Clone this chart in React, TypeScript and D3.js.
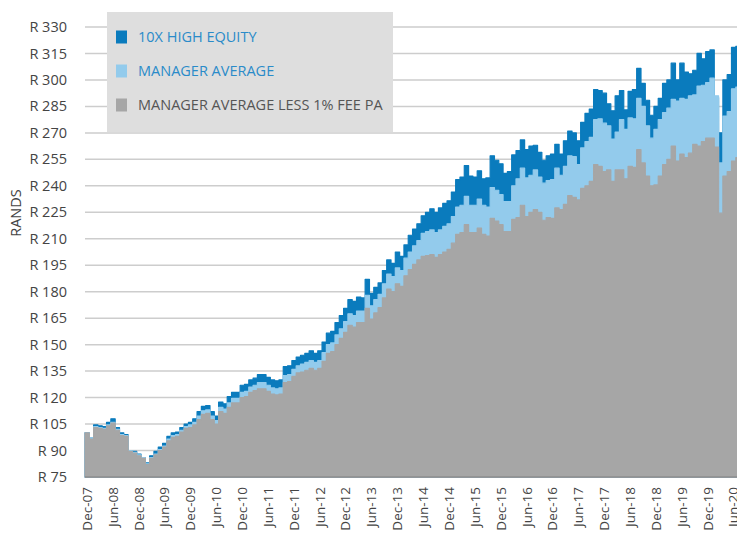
import * as d3 from "d3";

// monthly index values, Dec-07 .. Jul-20 (R100 invested)
const highEquity = [
  100, 97, 104.5, 104, 103.5, 106, 108, 103, 100, 99, 90, 89.5,
  88, 86, 83, 87, 89.5, 92, 94, 98, 100, 100.5, 103, 105,
  106, 108, 112, 115, 115.5, 112, 109.5, 117.5, 116.5, 120.5, 123, 123,
  127, 127.5, 130, 131, 133, 133, 131.5, 130, 129.5, 130, 137.5, 138,
  141, 143, 144, 145, 146.5, 145, 146.5, 151.5, 156.5, 157.5, 162.5, 166.5,
  170.5, 175.5, 174.5, 177, 176.5, 187, 179, 182.5, 185, 192, 198, 196,
  202.5, 200, 206.5, 212, 215.5, 218.5, 223, 225, 227, 225, 227.5, 230,
  231.5, 236.5, 243.5, 245, 251.5, 245.5, 245, 248.5, 244, 244.5, 257, 254.5,
  252.5, 247, 248, 257.5, 260, 266, 260.5, 262.5, 263, 259, 254.5, 257,
  258, 263.5, 258, 265.5, 271, 270, 265.5, 276, 281, 283.5, 294.5, 294,
  292.5, 286.5, 282.5, 291, 294, 283, 293.5, 294.5, 306.5, 298, 288.5, 280,
  285, 289.5, 298, 300, 309.5, 300, 309.5, 304.5, 303.5, 305.5, 315, 312,
  316, 317, 290, 270, 300, 303, 318.5, 319,
];

const managerAverage = [
  100, 97, 103.5, 103, 102.5, 104.5, 106, 102, 99, 98.5, 90, 89,
  87.5, 86, 82.5, 86, 88, 90.5, 92.5, 96.5, 98.5, 99, 101.5, 103.5,
  104.5, 106, 109.5, 112.5, 113, 109.5, 107, 114.5, 113.5, 117, 119.5, 119.5,
  123, 123.5, 126, 127, 128.5, 128.5, 127, 125.5, 125, 125.5, 132.5, 133,
  136, 138, 139, 140, 141, 140, 141, 145.5, 150, 151, 155.5, 159,
  163, 167.5, 166.5, 169, 169, 178, 172, 175.5, 178.5, 184.5, 190, 188.5,
  193.5, 192, 199, 202.5, 206, 209, 213, 214, 215, 213.5, 215, 217,
  218.5, 222.5, 228, 229, 234, 229, 229, 232.5, 229, 228, 239, 237.5,
  235, 231, 231, 240, 244, 250, 244.5, 246, 249, 245, 241.5, 243,
  243.5, 250, 246, 251, 257, 256.5, 252, 261.5, 265, 267.5, 277.5, 278,
  275.5, 274, 266.5, 270.5, 277.5, 272, 278.5, 278, 289.5, 285, 274, 267,
  272, 277.5, 281.5, 284, 289, 288, 289.5, 289, 291, 291.5, 296.5, 297,
  298.5, 301, 291, 253, 279.5, 282, 295, 296,
];

const lessFee = [
  100, 96.5, 103, 102.5, 102, 104, 105.5, 101.5, 98.5, 98, 89.5, 88.5,
  87, 85.5, 82, 85.5, 87.5, 90, 92, 95.5, 97.5, 98, 100.5, 102.5,
  103, 104.5, 107.5, 110.5, 111, 107.5, 105, 112, 111, 114.5, 117, 117,
  120, 120.5, 123, 124, 125, 125, 123.5, 122, 121.5, 122, 128.5, 129,
  132, 134, 134.5, 135.5, 136.5, 135.5, 136.5, 140.5, 145, 146, 150, 153.5,
  157, 161, 160, 162.5, 162.5, 170.5, 164.5, 168, 171, 176.5, 181.5, 180,
  184.5, 183, 189, 192.5, 195.5, 198, 200, 200.5, 201, 199.5, 201, 202.5,
  204, 207.5, 212.5, 213.5, 218, 213.5, 213.5, 216, 212.5, 211.5, 221.5, 220,
  218, 214, 214, 221, 222, 229, 222.5, 225, 226.5, 225, 220.5, 222,
  221.5, 227.5, 226.5, 229.5, 234.5, 233.5, 232, 238.5, 240, 242.5, 252, 251,
  248, 249, 242.5, 249, 249, 244, 251, 250.5, 260.5, 253, 245.5, 240,
  240.5, 245.5, 252, 255, 262.5, 254, 258, 256, 258.5, 263.5, 262.5, 265,
  267, 267, 262, 224.5, 245.5, 248, 254, 256,
];

const tickLabels = [
  "Dec-07", "Jun-08", "Dec-08", "Jun-09", "Dec-09", "Jun-10", "Dec-10",
  "Jun-11", "Dec-11", "Jun-12", "Dec-12", "Jun-13", "Dec-13", "Jun-14",
  "Dec-14", "Jun-15", "Dec-15", "Jun-16", "Dec-16", "Jun-17", "Dec-17",
  "Jun-18", "Dec-18", "Jun-19", "Dec-19", "Jun-20",
];

const yTicks = d3.range(75, 331, 15);

const series = [
  { name: "10X HIGH EQUITY", values: highEquity, color: "#0a7bbd", text: "#2a8bc9" },
  { name: "MANAGER AVERAGE", values: managerAverage, color: "#93cbec", text: "#2a8bc9" },
  { name: "MANAGER AVERAGE LESS 1% FEE PA", values: lessFee, color: "#a6a6a6", text: "#555555" },
];

const months = d3.timeMonth.range(new Date(2007, 11, 1), new Date(2020, 7, 1));
const fmt = d3.timeFormat("%b-%y");
const monthLabels = months.map((m) => fmt(m));

const W = 737;
const H = 533;
const left = 85;
const step = 4.31;
const font = "'Open Sans', sans-serif";

export default function App() {
  const x = d3
    .scaleBand<string>()
    .domain(monthLabels)
    .range([left, left + step * monthLabels.length])
    .padding(0);
  const y = d3.scaleLinear().domain([75, 330]).range([477, 27]);

  const stepArea = (vals: number[]) => {
    const pts = vals.map((v, i) => [x(monthLabels[i]) as number, v] as [number, number]);
    pts.push([(x(monthLabels[vals.length - 1]) as number) + x.bandwidth(), vals[vals.length - 1]]);
    return d3
      .area<[number, number]>()
      .x((d) => d[0])
      .y0(y(75))
      .y1((d) => y(d[1]))
      .curve(d3.curveStepAfter)(pts) as string;
  };

  return (
    <svg
      width={W}
      height={H}
      style={{ position: "absolute", left: 0, top: 0, background: "#fff" }}
      fontFamily={font}
    >
      {yTicks.map((t) => (
        <g key={t}>
          {t > 75 && (
            <line x1={left} x2={W} y1={y(t)} y2={y(t)} stroke="#cdcdcd" strokeWidth={1.5} />
          )}
          <text x={67} y={y(t)} dy="0.35em" textAnchor="end" fontSize={14.5} fill="#444">
            {`R ${t}`}
          </text>
        </g>
      ))}

      <text
        transform={`translate(21,213) rotate(-90)`}
        textAnchor="middle"
        fontSize={14.5}
        fill="#444"
      >
        RANDS
      </text>

      {series.map((s) => (
        <path
          key={s.name}
          d={stepArea(s.values)}
          fill={s.color}
          stroke={s.color}
          strokeWidth={1.2}
          strokeLinejoin="round"
        />
      ))}

      <line x1={left} x2={W} y1={y(75)} y2={y(75)} stroke="#8c8c8c" strokeWidth={1.5} />

      {tickLabels.map((l) => {
        const cx = (x(l) as number) + x.bandwidth() / 2;
        return (
          <text
            key={l}
            transform={`translate(${cx},487) rotate(-90)`}
            textAnchor="end"
            dy="0.35em"
            fontSize={13.5}
            fill="#444"
          >
            {l}
          </text>
        );
      })}

      <rect x={107} y={12} width={286} height={120} fill="#dedede" />
      {series.map((s, i) => (
        <g key={s.name} transform={`translate(116,${37 + i * 34})`}>
          <rect x={0} y={-6.5} width={11} height={13} fill={s.color} />
          <text x={22} dy="0.35em" fontSize={14.5} fill={s.text}>
            {s.name}
          </text>
        </g>
      ))}
    </svg>
  );
}
